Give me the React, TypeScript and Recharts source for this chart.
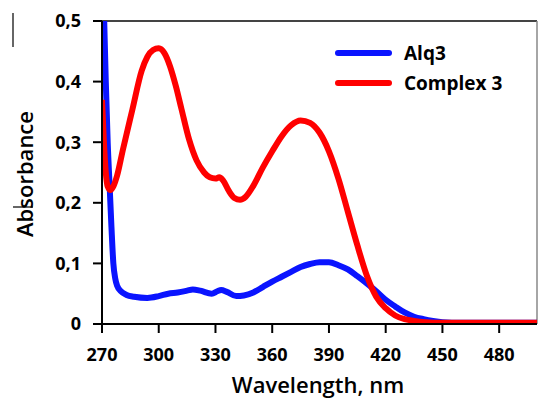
import { LineChart, Line, XAxis, YAxis, ReferenceLine, Legend, Label } from 'recharts'

// wavelength (nm) / absorbance
const alqNm = [270, 271, 272, 273, 274, 275, 276, 277, 278, 280, 283, 287, 294, 300, 305, 310, 315, 318, 322, 328, 331, 333, 336, 341, 345, 350, 355, 360, 365, 370, 375, 380, 385, 390, 395, 400, 405, 410, 415, 420, 425, 430, 435, 440, 445, 450, 460, 480, 500]
const alqAbs = [0.62, 0.52, 0.4, 0.3, 0.23, 0.16, 0.1, 0.075, 0.063, 0.054, 0.048, 0.045, 0.043, 0.046, 0.05, 0.052, 0.055, 0.057, 0.055, 0.05, 0.054, 0.056, 0.053, 0.046, 0.047, 0.052, 0.061, 0.07, 0.078, 0.086, 0.094, 0.099, 0.102, 0.102, 0.097, 0.09, 0.079, 0.067, 0.054, 0.04, 0.029, 0.019, 0.012, 0.008, 0.005, 0.003, 0.002, 0.002, 0.002]

const cplxNm = [270, 271, 272, 273, 274.5, 276, 278, 281, 286, 291, 294, 297, 300, 303, 306, 309, 312, 316, 320, 324, 327, 330, 332, 334, 337, 340, 343, 346, 350, 355, 360, 365, 370, 375, 380, 385, 390, 395, 400, 405, 410, 415, 420, 425, 430, 435, 441, 450, 470, 500]
const cplxAbs = [0.37, 0.3, 0.25, 0.227, 0.221, 0.227, 0.245, 0.287, 0.353, 0.418, 0.441, 0.452, 0.455, 0.447, 0.425, 0.393, 0.355, 0.305, 0.27, 0.25, 0.242, 0.24, 0.242, 0.237, 0.22, 0.208, 0.205, 0.21, 0.228, 0.258, 0.285, 0.31, 0.328, 0.336, 0.332, 0.316, 0.285, 0.24, 0.185, 0.13, 0.08, 0.045, 0.026, 0.014, 0.008, 0.005, 0.003, 0.002, 0.002, 0.002]

const xTicks = [270, 300, 330, 360, 390, 420, 450, 480]
const yTicks = [0, 0.1, 0.2, 0.3, 0.4, 0.5]

const alqData = alqNm.map((nm, i) => ({ nm, abs: alqAbs[i] }))
const cplxData = cplxNm.map((nm, i) => ({ nm, abs: cplxAbs[i] }))

const FONT = '"Open Sans", sans-serif'
const tickStyle = { fill: '#000', fontSize: 18, fontWeight: 700, fontFamily: FONT }

function LegendBox({ payload }: any) {
  return (
    <div style={{ fontFamily: FONT, fontWeight: 700, fontSize: 19, color: '#000' }}>
      {(payload || []).map((p: any) => (
        <div key={p.value} style={{ display: 'flex', alignItems: 'center', height: 30 }}>
          <span style={{ display: 'inline-block', width: 57, height: 6, borderRadius: 3, background: p.color, marginRight: 12 }} />
          <span>{p.value}</span>
        </div>
      ))}
    </div>
  )
}

export default function App() {
  return (
    <div style={{ position: 'absolute', left: 0, top: 0, width: 538, height: 401, background: '#fff' }}>
      <LineChart width={538} height={401} margin={{ top: 21, right: 1, bottom: 0, left: 0 }}>
        <XAxis
          type="number"
          dataKey="nm"
          domain={[270, 500]}
          ticks={xTicks}
          allowDataOverflow
          height={77}
          tickSize={9}
          tickMargin={15}
          stroke="#000"
          strokeWidth={2}
          tick={tickStyle}
        >
          <Label
            content={() => (
              <text x={318} y={384} textAnchor="middle" dominantBaseline="central" fontFamily={FONT} fontSize={22} fontWeight={600} fill="#000">
                Wavelength, nm
              </text>
            )}
          />
        </XAxis>
        <YAxis
          type="number"
          domain={[0, 0.5]}
          ticks={yTicks}
          allowDataOverflow
          width={102}
          tickSize={9}
          tickMargin={12}
          stroke="#000"
          strokeWidth={2}
          tick={tickStyle}
          tickFormatter={(v: number) => String(v).replace('.', ',')}
        >
          <Label
            content={() => (
              <g>
                <line x1={13} y1={13} x2={13} y2={47} stroke="#333" strokeWidth={1.5} />
                <line x1={13} y1={207} x2={33} y2={207} stroke="#333" strokeWidth={1.5} />
                <text x={24} y={174} transform="rotate(-90 24 174)" textAnchor="middle" dominantBaseline="central" fontFamily={FONT} fontSize={22} fontWeight={600} fill="#000">
                  Absorbance
                </text>
              </g>
            )}
          />
        </YAxis>
        <ReferenceLine y={0.5} stroke="#444" strokeWidth={2} />
        <ReferenceLine x={500} stroke="#888" strokeWidth={1.5} />
        <Legend
          layout="vertical"
          align="center"
          verticalAlign="middle"
          content={LegendBox}
          wrapperStyle={{ left: 335, top: 38, width: 200, height: 60 }}
        />
        <Line data={alqData} dataKey="abs" name="Alq3" type="monotone" stroke="#0a14ff" strokeWidth={6} dot={false} isAnimationActive={false} />
        <Line data={cplxData} dataKey="abs" name="Complex 3" type="monotone" stroke="#ff0000" strokeWidth={6} dot={false} isAnimationActive={false} />
      </LineChart>
    </div>
  )
}
